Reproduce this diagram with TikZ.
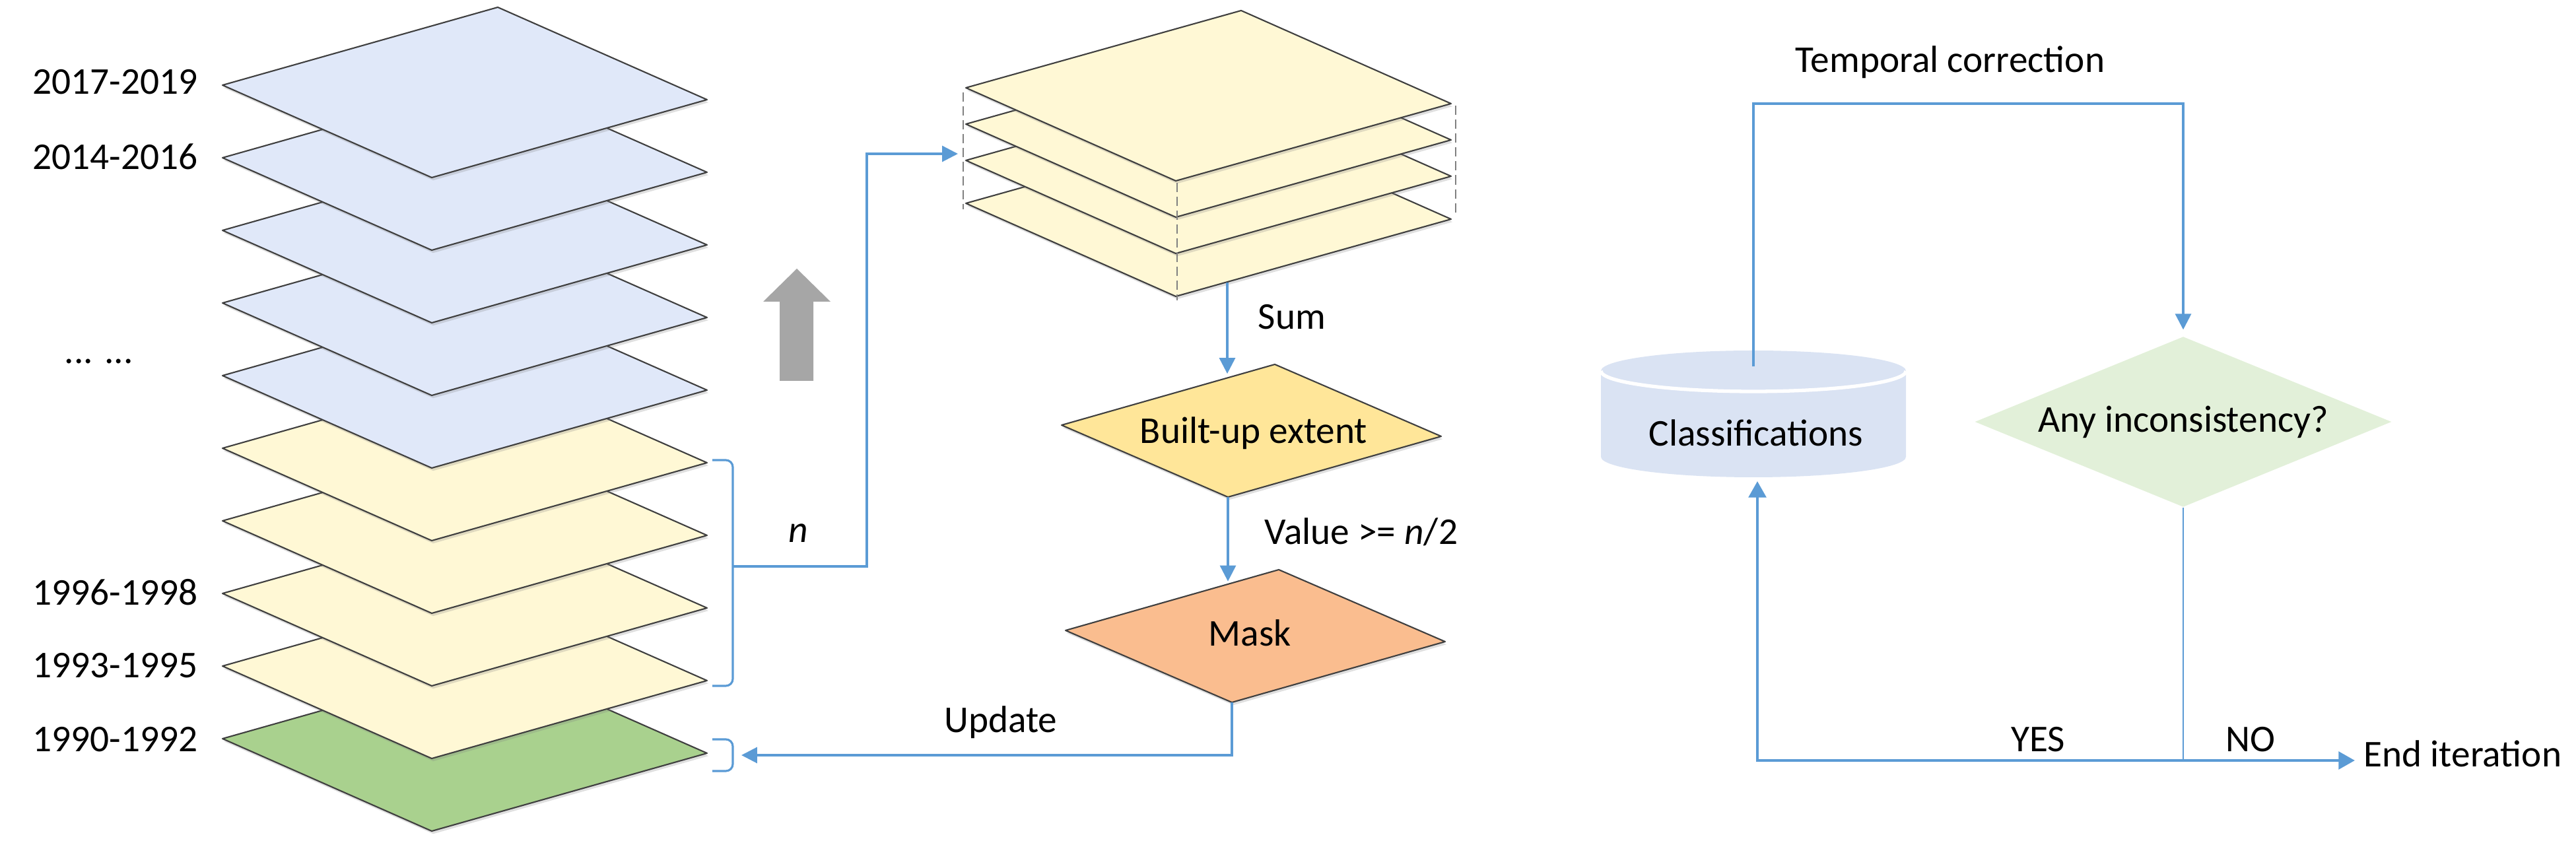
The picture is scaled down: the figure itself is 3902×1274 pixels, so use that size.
\documentclass[tikz,border=0pt]{standalone}
\usepackage{fontspec}
\setmainfont{Carlito}
\usetikzlibrary{arrows.meta, shadows, shapes.geometric, calc}

\definecolor{layerblue}{HTML}{E0E8F9}
\definecolor{layeryellow}{HTML}{FFF8D5}
\definecolor{layergreen}{HTML}{A9D18E}
\definecolor{extentyellow}{HTML}{FFE699}
\definecolor{maskorange}{HTML}{FABD8F}
\definecolor{cylblue}{HTML}{DAE3F3}
\definecolor{checkgreen}{HTML}{E2F0D9}
\definecolor{flowblue}{HTML}{5B9BD5}
\definecolor{edgegray}{HTML}{3F3F3F}
\definecolor{arrowgray}{HTML}{A6A6A6}

\tikzset{
  sheet/.style = {draw = edgegray, line width = 0.6pt, line join = round,
    drop shadow = {shadow xshift = 0.6pt, shadow yshift = -1.2pt, opacity = 0.25}},
  link/.style = {draw = flowblue, line width = 0.9pt},
  linkarrow/.style = {link, -{Triangle[length = 6.8pt, width = 6.8pt]}},
  twoway/.style = {draw = flowblue, line width = 1.3pt,
    {Triangle[length = 7pt, width = 7.5pt]}-{Triangle[length = 7pt, width = 7.5pt]}},
  guide/.style = {draw = gray, line width = 0.5pt, dash pattern = on 4pt off 2pt},
  txt/.style = {font = \fontsize{16.3}{19}\selectfont, inner sep = 0pt},
  check/.style = {txt, diamond, fill = checkgreen, aspect = 2.45,
    minimum width = 6.31cm, minimum height = 2.58cm}
}

\begin{document}
\begin{tikzpicture}[x = 0.01cm, y = -0.01cm]
\useasboundingbox (0, 0) rectangle (3902, 1274);

\draw[sheet, fill = layergreen] (337, 1119) -- ++(417, -118) -- ++(317, 140) -- ++(-417, 118) -- cycle;
\draw[sheet, fill = layeryellow] (337, 1009) -- ++(417, -118) -- ++(317, 140) -- ++(-417, 118) -- cycle;
\draw[sheet, fill = layeryellow] (337, 899) -- ++(417, -118) -- ++(317, 140) -- ++(-417, 118) -- cycle;
\draw[sheet, fill = layeryellow] (337, 789) -- ++(417, -118) -- ++(317, 140) -- ++(-417, 118) -- cycle;
\draw[sheet, fill = layeryellow] (337, 679) -- ++(417, -118) -- ++(317, 140) -- ++(-417, 118) -- cycle;
\draw[sheet, fill = layerblue] (337, 569) -- ++(417, -118) -- ++(317, 140) -- ++(-417, 118) -- cycle;
\draw[sheet, fill = layerblue] (337, 459) -- ++(417, -118) -- ++(317, 140) -- ++(-417, 118) -- cycle;
\draw[sheet, fill = layerblue] (337, 349) -- ++(417, -118) -- ++(317, 140) -- ++(-417, 118) -- cycle;
\draw[sheet, fill = layerblue] (337, 239) -- ++(417, -118) -- ++(317, 140) -- ++(-417, 118) -- cycle;
\draw[sheet, fill = layerblue] (337, 129) -- ++(417, -118) -- ++(317, 140) -- ++(-417, 118) -- cycle;

\node[txt, anchor = east] (y1719) at (300, 124) {2017-2019};
\node[txt, anchor = east] (y1416) at (300, 237) {2014-2016};
\node[txt] (ydots) at (150, 547) {... ...};
\node[txt, anchor = east] (y9698) at (300, 897) {1996-1998};
\node[txt, anchor = east] (y9395) at (300, 1008) {1993-1995};
\node[txt, anchor = east] (y9092) at (300, 1120) {1990-1992};

\fill[arrowgray] (1207, 407) -- (1258, 457) -- (1232, 457) -- (1232, 577) -- (1181, 577) -- (1181, 457) -- (1156, 457) -- cycle;

\draw[link, rounded corners = 3pt] (1079, 697) -- (1110, 697) -- (1110, 1039) -- (1079, 1039);
\draw[link, rounded corners = 3pt] (1079, 1120) -- (1110, 1120) -- (1110, 1168) -- (1079, 1168);
\coordinate (nmid) at (1110, 858);
\coordinate (basemid) at (1110, 1144);

\draw[sheet, fill = layeryellow] (1463, 308) -- ++(417, -117) -- ++(318, 141) -- ++(-417, 117) -- cycle;
\draw[sheet, fill = layeryellow] (1463, 243) -- ++(417, -117) -- ++(318, 141) -- ++(-417, 117) -- cycle;
\draw[sheet, fill = layeryellow] (1463, 188) -- ++(417, -117) -- ++(318, 141) -- ++(-417, 117) -- cycle;
\draw[sheet, fill = layeryellow] (1463, 133) -- ++(417, -117) -- ++(318, 141) -- ++(-417, 117) -- cycle;
\draw[guide] (1459, 140) -- (1459, 317);
\draw[guide] (2205, 160) -- (2205, 325);
\draw[guide] (1783, 277) -- (1783, 455);
\coordinate (stackin) at (1451, 233);
\coordinate (sumout) at (1859, 428);

\draw[linkarrow] (nmid) -- ++(203, 0) |- (stackin);
\node[txt] (ncount) at (1209, 808) {\textit{n}};

\draw[sheet, fill = extentyellow] (1608, 644) coordinate (ext-w) -- ++(323, -92) coordinate (ext-n)
  -- ++(252, 109) coordinate (ext-e) -- ++(-323, 92) coordinate (ext-s) -- cycle;
\node[txt] (extent) at (1899, 656) {Built-up extent};
\coordinate (extin) at ($(ext-w)!0.77!(ext-n)$);

\draw[sheet, fill = maskorange] (1614, 955) coordinate (mask-w) -- ++(323, -92) coordinate (mask-n)
  -- ++(252, 109) coordinate (mask-e) -- ++(-323, 92) coordinate (mask-s) -- cycle;
\node[txt] (mask) at (1893, 959) {Mask};
\coordinate (maskin) at ($(mask-w)!0.77!(mask-n)$);

\draw[linkarrow, shorten > = 2pt] (sumout) -- (sumout |- extin);
\node[txt] (sumlbl) at (1957, 480) {Sum};
\draw[linkarrow, shorten > = 1pt] (ext-s) -- (ext-s |- maskin);
\node[txt] (valuelbl) at (2062, 806) {Value >= \textit{n}/2};
\draw[linkarrow, shorten > = 3.7pt] (mask-s) |- (basemid);
\node[txt] (updatelbl) at (1516, 1094) {Update};

\fill[cylblue] (2425, 562) -- (2425, 692) arc (180:0:231 and 31) -- (2887, 562) arc (0:-180:231 and 31) -- cycle;
\draw[white, line width = 1.5pt] (2425, 562) arc (180:0:231 and 31);
\node[txt] (classif) at (2660, 656) {Classifications};
\coordinate (cyltop) at (2656, 555);
\coordinate (cylbot) at (2662, 729);

\node[check] (incons) at (3307, 639) {Any inconsistency?};
\draw[linkarrow, shorten > = 2.8pt] (cyltop) -- ++(0, -398) -| (incons.north);
\node[txt] (templbl) at (2954, 94) {Temporal correction};

\coordinate (loopturn) at (2662, 1152);
\node[txt, anchor = west] (endit) at (3580, 1142) {End iteration};
\draw[link, line width = 0.6pt] (incons.south) -- (incons.south |- loopturn);
\draw[twoway, shorten > = 3.7pt] (cylbot) -- (loopturn) -- (loopturn -| endit.west);
\node[txt] (yeslbl) at (3087, 1120) {YES};
\node[txt] (nolbl) at (3409, 1120) {NO};
\end{tikzpicture}
\end{document}
